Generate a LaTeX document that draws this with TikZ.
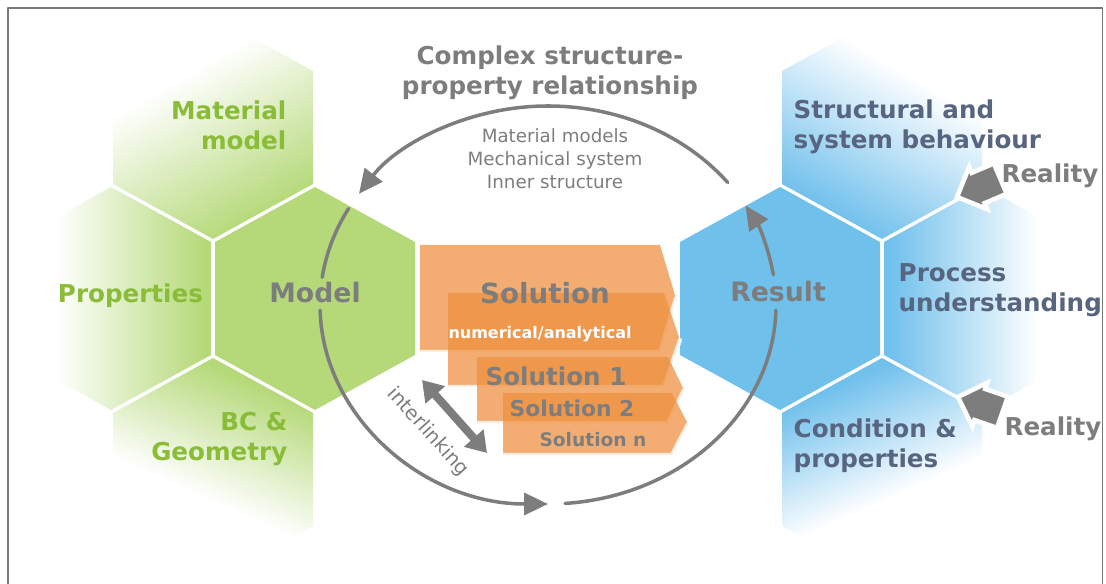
\documentclass[tikz,border=0pt]{standalone}
\usepackage{fontspec}
\setmainfont{DejaVu Sans}
\usetikzlibrary{arrows.meta}

\definecolor{hexgreen}{RGB}{181,217,121}
\definecolor{hexblue}{RGB}{112,192,236}
\definecolor{txtgreen}{RGB}{137,188,55}
\definecolor{txtslate}{RGB}{88,101,128}
\definecolor{txtgray}{RGB}{125,125,125}
\definecolor{framegray}{RGB}{120,120,120}
\definecolor{solorange}{RGB}{238,142,60}

% one honeycomb cell around a centre point
\newcommand{\hexcell}[1]{(#1) ++(0,1.115) -- ++(1,-0.55) -- ++(0,-1.13) -- ++(-1,-0.55) -- ++(-1,0.55) -- ++(0,1.13) -- cycle}
% outer cell fading to white: centre, direction of the white side, colour, full-colour end, white end
\newcommand{\fadecell}[5]{%
  \begin{scope}
    \clip \hexcell{#1};
    \coordinate (fc) at (#1);
    \begin{scope}[transform canvas={rotate around={#2:(fc)}}]
      \fill[#3] ([shift={(-1.8,-1.8)}]fc) rectangle ([shift={(1.8,#4+0.01)}]fc);
      \shade[bottom color=#3,top color=white] ([shift={(-1.8,#4)}]fc) rectangle ([shift={(1.8,#5)}]fc);
    \end{scope}
  \end{scope}}
% short block arrow: tip position, direction
\newcommand{\realityarrow}[2]{%
  \filldraw[fill=txtgray,draw=white,line width=1.3pt,line join=miter,miter limit=8,shift={(#1)},rotate=#2]
    (0,0) -- (-0.23,0.23) -- (-0.23,0.165) -- (-0.47,0.165) -- (-0.47,-0.165) -- (-0.23,-0.165) -- (-0.23,-0.23) -- cycle;}

\begin{document}
\begin{tikzpicture}[x=1cm,y=1cm,line cap=round,line join=round,
  hexbig/.style={inner sep=0pt,text=txtgray,font=\fontsize{7.6pt}{9pt}\selectfont\bfseries},
  hexlbl/.style={inner sep=0pt,font=\fontsize{7pt}{8.6pt}\selectfont\bfseries},
  soltext/.style={inner sep=0pt,text=txtgray},
  loopline/.style={draw=txtgray,line width=1pt},
  looptip/.style={-{Triangle[length=0.24cm,width=0.22cm]}},
  solbox/.style={fill=solorange,fill opacity=0.72},
  soledge/.style={draw=white,line width=1.2pt,opacity=0.8}]
  \useasboundingbox (0,0) rectangle (11.06,5.83);
  \draw[framegray,line width=0.45pt] (0.08,-0.2) |- (11.025,5.75) -- (11.025,-0.2);

  % left honeycomb
  \fadecell{2.13,4.555}{30}{hexgreen}{-1.0}{0.6}
  \fadecell{1.11,2.845}{90}{hexgreen}{-0.94}{0.54}
  \fill[hexgreen] \hexcell{3.15,2.845};
  \fadecell{2.13,1.135}{156}{hexgreen}{-0.95}{0.3}
  % right honeycomb
  \fadecell{8.82,4.555}{-30}{hexblue}{-1.0}{0.6}
  \fill[hexblue] \hexcell{7.80,2.845};
  \fadecell{9.84,2.845}{-90}{hexblue}{-0.94}{0.54}
  \fadecell{8.82,1.135}{-156}{hexblue}{-0.95}{0.3}

  % stacked solution tabs
  \fill[solbox] (4.20,3.38) -- (6.60,3.38) -- (6.76,2.845) -- (6.60,2.31) -- (4.20,2.31) -- cycle;
  \draw[soledge] (6.76,2.845) -- (6.60,2.31) -- (4.20,2.31);
  \fill[solbox] (4.48,2.90) -- (6.64,2.90) -- (6.80,2.43) -- (6.64,1.96) -- (4.48,1.96) -- cycle;
  \draw[soledge] (6.80,2.43) -- (6.64,1.96) -- (4.48,1.96);
  \fill[solbox] (4.77,2.26) -- (6.68,2.26) -- (6.84,1.93) -- (6.68,1.60) -- (4.77,1.60) -- cycle;
  \draw[soledge] (6.84,1.93) -- (6.68,1.60) -- (4.77,1.60);
  \fill[solbox] (5.03,1.90) -- (6.72,1.90) -- (6.88,1.59) -- (6.72,1.28) -- (5.03,1.28) -- cycle;
  \draw[soledge] (6.88,1.59) -- (6.72,1.28) -- (5.03,1.28);

  \node[soltext,font=\fontsize{7.9pt}{9pt}\selectfont\bfseries] (solhead) at (5.45,2.90) {Solution};
  \node[soltext,text=white,font=\fontsize{4.55pt}{6pt}\selectfont\bfseries] (solsub) at (5.40,2.49) {numerical/analytical};
  \node[soltext,font=\fontsize{7pt}{8pt}\selectfont\bfseries] (sol1) at (5.56,2.07) {Solution 1};
  \node[soltext,font=\fontsize{6.2pt}{7pt}\selectfont\bfseries] (sol2) at (5.72,1.75) {Solution 2};
  \node[soltext,font=\fontsize{5.3pt}{6pt}\selectfont\bfseries] (soln) at (5.93,1.43) {Solution n};

  % cell labels
  \node[hexbig] (model) at (3.15,2.90) {Model};
  \node[hexbig] (result) at (7.78,2.91) {Result};
  \node[hexlbl,text=txtgreen,align=right,anchor=east] (matmodel) at (2.87,4.58) {Material\\model};
  \node[hexlbl,text=txtgreen] (props) at (1.305,2.875) {Properties};
  \node[hexlbl,text=txtgreen,align=right,anchor=east] (bcgeo) at (2.88,1.44) {BC \&\\Geometry};
  \node[hexlbl,text=txtslate,align=left,anchor=west] (behaviour) at (7.93,4.56) {Structural and\\system behaviour};
  \node[hexlbl,text=txtslate,align=left,anchor=west] (process) at (8.98,2.93) {Process\\understanding};
  \node[hexlbl,text=txtslate,align=left,anchor=west] (condition) at (7.93,1.37) {Condition \&\\properties};

  \node[hexlbl,text=txtgray,align=center] (title) at (5.50,5.105) {Complex structure-\\property relationship};
  \node[inner sep=0pt,text=txtgray,align=center,font=\fontsize{5.2pt}{6.5pt}\selectfont] (inputs) at (5.55,4.24)
    {Material models\\Mechanical system\\Inner structure};

  % the loop Model -> Solution -> Result -> Model
  \coordinate (loop) at (5.48,2.78);
  \draw[loopline,looptip] ([shift={(38:2.28 and 1.99)}]loop) arc[start angle=38,end angle=146,x radius=2.28,y radius=1.99];
  \draw[loopline] ([shift={(151:2.28 and 1.99)}]loop) arc[start angle=151,end angle=172,x radius=2.28,y radius=1.99];
  \draw[loopline,looptip] ([shift={(181.5:2.28 and 1.99)}]loop) arc[start angle=181.5,end angle=270,x radius=2.28,y radius=1.99];
  \draw[loopline] ([shift={(274.3:2.28 and 1.99)}]loop) arc[start angle=274.3,end angle=358.5,x radius=2.28,y radius=1.99];
  \draw[loopline,looptip] ([shift={(8.7:2.28 and 1.99)}]loop) arc[start angle=8.7,end angle=30,x radius=2.28,y radius=1.99];

  % interlinking
  \coordinate (linkA) at (4.22,2.03);
  \coordinate (linkB) at (4.87,1.30);
  \draw[txtgray,line width=2.3pt,line cap=butt,{Triangle[length=0.2cm,width=0.25cm]}-{Triangle[length=0.2cm,width=0.25cm]}] (linkA) -- (linkB);
  \node[inner sep=0pt,text=txtgray,rotate=-48,font=\fontsize{5.6pt}{6pt}\selectfont] (interlink) at (4.28,1.51) {interlinking};

  % reality inputs
  \realityarrow{9.57,3.86}{203}
  \realityarrow{9.58,1.86}{161}
  \node[hexlbl,text=txtgray] (realtop) at (10.50,4.075) {Reality};
  \node[hexlbl,text=txtgray] (realbot) at (10.53,1.54) {Reality};
\end{tikzpicture}
\end{document}
